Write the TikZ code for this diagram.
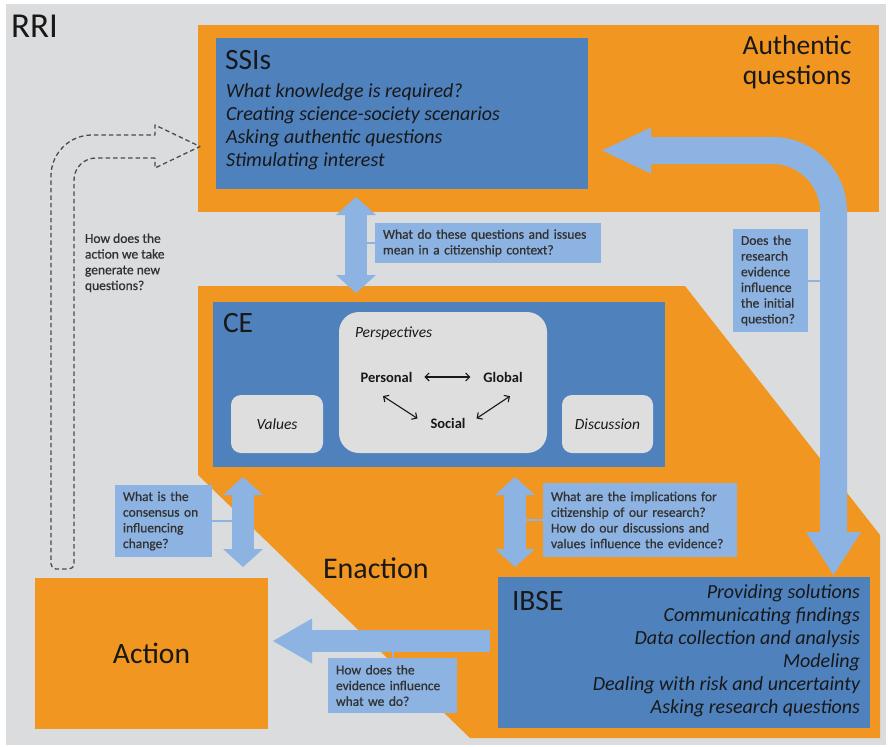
\documentclass[tikz,border=0pt]{standalone}
\usepackage{fontspec}
\setmainfont{Carlito}
\newfontfamily\lblfamily{Carlito}[FakeBold=0.7]
\usetikzlibrary{arrows.meta,calc}

\definecolor{bggray}{RGB}{219,220,221}
\definecolor{orng}{RGB}{241,150,33}
\definecolor{blu}{RGB}{79,129,189}
\definecolor{ltblue}{RGB}{141,179,226}
\definecolor{boxgray}{RGB}{222,222,223}
\definecolor{txt}{RGB}{24,24,24}
\definecolor{lbltxt}{RGB}{50,50,50}
\definecolor{dashgray}{RGB}{75,75,75}

\newcommand{\lblfont}{\lblfamily\fontsize{13.5}{15.7}\selectfont}

\tikzset{
  dblhead/.tip={Triangle[width=40pt,length=18pt,line width=0pt]},
  widehead/.tip={Triangle[width=45pt,length=39pt,line width=0pt]},
  bigleft/.tip={Triangle[width=46pt,length=49pt,line width=0pt]},
  bigdown/.tip={Triangle[width=55pt,length=43pt,line width=0pt]},
}

\begin{document}
\begin{tikzpicture}[x=1pt,y=-1pt,
  every node/.style={inner sep=0pt, outer sep=0pt},
  orangebox/.style={fill=orng, rectangle},
  bluebox/.style={fill=blu, rectangle},
  graybox/.style={fill=boxgray, rectangle, rounded corners=#1},
  qbox/.style={fill=ltblue, text=lbltxt, font=\lblfont, align=left, inner xsep=8pt},
  headtext/.style={font=\fontsize{29.5}{33}\selectfont, text=txt},
  itemtext/.style={font=\fontsize{20}{23}\selectfont\itshape, text=txt},
  blk/.style={draw=ltblue, line width=22pt},
  thinlink/.style={draw=ltblue, line width=2pt},
  persarr/.style={draw=txt, line width=1.1pt, {Straight Barb[length=4pt,width=8pt]}-{Straight Barb[length=4pt,width=8pt]}},
]
\useasboundingbox (0,0) rectangle (889,747);
\fill[white] (0,0) rectangle (889,747);
\fill[bggray] (6,4) rectangle (886,745);

% title
\node[font=\fontsize{35}{38}\selectfont, text=txt, anchor=base west] (rri) at (11,37) {RRI};

% authentic questions block
\node[orangebox, minimum width=681pt, minimum height=187pt] (aq) at (538.5,118.5) {};
\node[bluebox, minimum width=372pt, minimum height=151pt] (ssi) at (402,113.5) {};
\node[headtext, anchor=base west] (ssititle) at (225,69) {SSIs};
\foreach \t [count=\i] in {What knowledge is required?, Creating science-society scenarios, Asking authentic questions, Stimulating interest}
  \node[itemtext, anchor=base west] (ssiitem\i) at (226,74+23*\i) {\t};
\node[font=\fontsize{27.5}{30}\selectfont, text=txt, align=center] (aqtitle) at (797,62) {Authentic\\questions};

% enaction region
\fill[orng] (198,286) -- (685,286) -- (880,535) -- (880,738) -- (470,738) -- (198,475) -- cycle;
\node[font=\fontsize{30}{33}\selectfont, text=txt, anchor=base west] (enaction) at (323,578) {Enaction};

% citizenship education
\node[bluebox, minimum width=452pt, minimum height=165pt] (ce) at (439,384.5) {};
\node[headtext, anchor=base west] (cetitle) at (223,332) {CE};
\node[graybox=20pt, minimum width=208pt, minimum height=141pt] (persp) at (443,382.5) {};
\node[graybox=10pt, minimum width=92pt, minimum height=58pt, font=\fontsize{15.5}{18}\selectfont\itshape, text=txt] (values) at (277,424) {Values};
\node[graybox=10pt, minimum width=91pt, minimum height=58pt, font=\fontsize{15.5}{18}\selectfont\itshape, text=txt] (disc) at (607.5,424) {Discussion};
\node[font=\fontsize{15.5}{18}\selectfont\itshape, text=txt, anchor=base west] (persptitle) at (355,337) {Perspectives};
\node[font=\fontsize{14.5}{17}\selectfont\bfseries, text=txt, anchor=base] (personal) at (386.5,382) {Personal};
\node[font=\fontsize{14.5}{17}\selectfont\bfseries, text=txt, anchor=base] (global) at (503,382) {Global};
\node[font=\fontsize{14.5}{17}\selectfont\bfseries, text=txt, anchor=base] (social) at (448,428) {Social};
\draw[persarr] ($(personal.east)+(12,0)$) -- ($(global.west)+(-13,0)$);
\draw[persarr] ($(personal.south)+(-3.5,14)$) -- ($(social.west)+(-13,-4.5)$);
\draw[persarr] ($(global.south)+(7,14)$) -- ($(social.east)+(11,-4.5)$);

% inquiry based science education
\node[bluebox, minimum width=372pt, minimum height=151pt] (ibse) at (684,652.5) {};
\node[headtext, anchor=base west] (ibsetitle) at (512,610) {IBSE};
\foreach \t [count=\i] in {Providing solutions, Communicating findings, Data collection and analysis, Modeling, Dealing with risk and uncertainty, Asking research questions}
  \node[itemtext, anchor=base east] (ibseitem\i) at (860,575+23*\i) {\t};

% action
\node[orangebox, minimum width=233pt, minimum height=151pt, font=\fontsize{29.5}{33}\selectfont, text=txt] (action) at (151.5,653.5) {Action};

% arrow end points
\coordinate (a1n) at (356,197);
\coordinate (a1s) at (356,293);
\coordinate (a2n) at (243,477);
\coordinate (a2s) at (243,567);
\coordinate (a3n) at (515,477);
\coordinate (a3s) at (515,567);
\coordinate (a4r) at (490,641);
\coordinate (a4l) at (273,641);
\coordinate (a5l) at (602,150.5);
\coordinate (a5c) at (833.5,150.5);
\coordinate (a5b) at (833.5,575);

% question boxes
\node[qbox, text width=210pt, minimum width=226pt, minimum height=40pt] (q1) at (488,243) {What do these questions and issues\\mean in a citizenship context?};
\node[qbox, text width=59pt, minimum width=75pt, minimum height=103pt] (q2) at (770.5,280.5) {Does the\\research\\evidence\\influence\\the initial\\question?};
\node[qbox, text width=81pt, minimum width=97pt, minimum height=72pt] (q3) at (163.5,521) {What is the\\consensus on\\influencing\\change?};
\node[qbox, text width=178pt, minimum width=194pt, minimum height=74pt] (q4) at (640,520) {What are the implications for\\citizenship of our research?\\How do our discussions and\\values influence the evidence?};
\node[qbox, text width=113pt, minimum width=129pt, minimum height=55pt] (q5) at (392.5,685.5) {How does the\\evidence influence\\what we do?};
\node[font=\lblfont, text=lbltxt, align=left, anchor=north west] (q6) at (85,233.5) {How does the\\action we take\\generate new\\questions?};

% links from question boxes to arrows
\draw[thinlink] (q1.west) -- (q1.west -| a1n);
\draw[thinlink] (q2.east) -- (q2.east -| a5b);
\draw[thinlink] (q3.east) -- (q3.east -| a2n);
\draw[thinlink] (q4.west) -- (q4.west -| a3n);
\draw[thinlink] (q5.north) -- (q5.north |- a4r);

% block arrows
\draw[blk, dblhead-dblhead] (a1n) -- (a1s);
\draw[blk, dblhead-dblhead] (a2n) -- (a2s);
\draw[blk, dblhead-dblhead] (a3n) -- (a3s);
\draw[blk, -widehead] (a4r) -- (a4l);
\draw[draw=ltblue, line width=27pt, rounded corners=61pt, bigleft-bigdown] (a5l) -- (a5c) -- (a5b);

% dashed feedback arrow from action back to SSIs
\draw[dashgray, line width=1.3pt, dash pattern=on 4.5pt off 3pt, line join=round]
  (155,158) -- (96,158) arc[start angle=270, end angle=180, radius=22]
  -- (74,564) arc[start angle=0, end angle=90, radius=5]
  -- (56,569) arc[start angle=90, end angle=180, radius=5]
  -- (51,176) arc[start angle=180, end angle=270, radius=41]
  -- (155,135) -- (155,125) -- (200,146.5) -- (155,168) -- cycle;
\end{tikzpicture}
\end{document}
